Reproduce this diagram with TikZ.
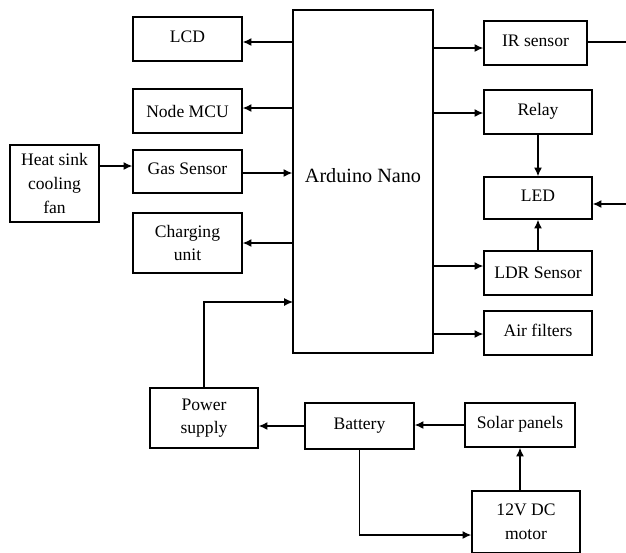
\documentclass[tikz,border=0pt]{standalone}
\usepackage{fontspec}
\setmainfont{Liberation Serif}
\usetikzlibrary{arrows.meta}

\begin{document}
\begin{tikzpicture}[x=0.02cm,y=-0.02cm, line width=0.7pt,
    blk/.style={draw, line width=0.8pt, align=center, inner sep=1pt,
      font=\fontsize{10}{13.5}\selectfont},
    arr/.style={-{Latex[length=5pt,width=4.5pt]}, line width=0.7pt}]
      \useasboundingbox (0,0) rectangle (626,552);
      % middle
      \node[blk, minimum width=2.8cm, minimum height=6.86cm,
        font=\fontsize{11.5}{14}\selectfont] (nano) at (363,181.5) {\raisebox{0.25cm}{Arduino Nano}};
      % left column
      \node[blk, minimum width=2.18cm, minimum height=0.88cm] (lcd) at (187.5,39) {\raisebox{3pt}{LCD}};
      \node[blk, minimum width=2.18cm, minimum height=0.88cm] (nodemcu) at (187.5,111) {Node MCU};
      \node[blk, minimum width=2.18cm, minimum height=0.86cm] (gas) at (187.5,171.5) {\raisebox{3pt}{Gas Sensor}};
      \node[blk, minimum width=2.18cm, minimum height=1.2cm] (charging) at (187.5,243) {Charging\\unit};
      \node[blk, minimum width=1.78cm, minimum height=1.54cm] (fan) at (54.5,183.5) {Heat sink\\cooling\\fan};
      % right column
      \node[blk, minimum width=2.06cm, minimum height=0.88cm] (ir) at (535.5,43) {\raisebox{3pt}{IR sensor}};
      \node[blk, minimum width=2.16cm, minimum height=0.88cm] (relay) at (538,112) {\raisebox{3pt}{Relay}};
      \node[blk, minimum width=2.16cm, minimum height=0.84cm] (led) at (538,198) {\raisebox{3pt}{LED}};
      \node[blk, minimum width=2.16cm, minimum height=0.88cm] (ldr) at (538,273) {LDR Sensor};
      \node[blk, minimum width=2.16cm, minimum height=0.88cm] (filters) at (538,333) {\raisebox{3pt}{Air filters}};
      % bottom
      \node[blk, minimum width=2.16cm, minimum height=1.2cm] (power) at (204,418) {Power\\supply};
      \node[blk, minimum width=2.18cm, minimum height=0.92cm] (battery) at (359.5,426) {\raisebox{3pt}{Battery}};
      \node[blk, minimum width=2.2cm, minimum height=0.88cm] (solar) at (520,425) {\raisebox{3pt}{Solar panels}};
      \node[blk, minimum width=2.16cm, minimum height=1.24cm] (motor) at (526,522) {12V DC\\motor};
      \coordinate (irout) at (626,42);
      \coordinate (ledin) at (626,204);
      \coordinate (pwrin) at (293,302);
      % connections
      \draw[arr] (nano.west |- 0,42) -- (lcd.east |- 0,42);
      \draw[arr] (nano.west |- 0,108) -- (nodemcu.east |- 0,108);
      \draw[arr] (fan.east |- 0,166) -- (gas.west |- 0,166);
      \draw[arr] (gas.east |- 0,173) -- (nano.west |- 0,173);
      \draw[arr] (nano.west |- 0,243) -- (charging.east);
      \draw[arr] (power.north) |- (pwrin);
      \draw[arr] (nano.east |- 0,48) -- (ir.west |- 0,48);
      \draw (ir.east |- irout) -- (irout);
      \draw[arr] (nano.east |- 0,113) -- (relay.west |- 0,113);
      \draw[arr] (relay.south) -- (led.north);
      \draw[arr] (ledin) -- (led.east |- ledin);
      \draw[arr] (ldr.north) -- (led.south);
      \draw[arr] (nano.east |- 0,266) -- (ldr.west |- 0,266);
      \draw[arr] (nano.east |- 0,334) -- (filters.west |- 0,334);
      \draw[arr] (battery.west) -- (power.east |- battery.west);
      \draw[arr] (solar.west) -- (battery.east |- solar.west);
      \draw[arr] (motor.north -| solar.south) -- (solar.south);
      \draw[arr] (battery.south) |- (motor.west |- 0,535);
    \end{tikzpicture}
\end{document}
